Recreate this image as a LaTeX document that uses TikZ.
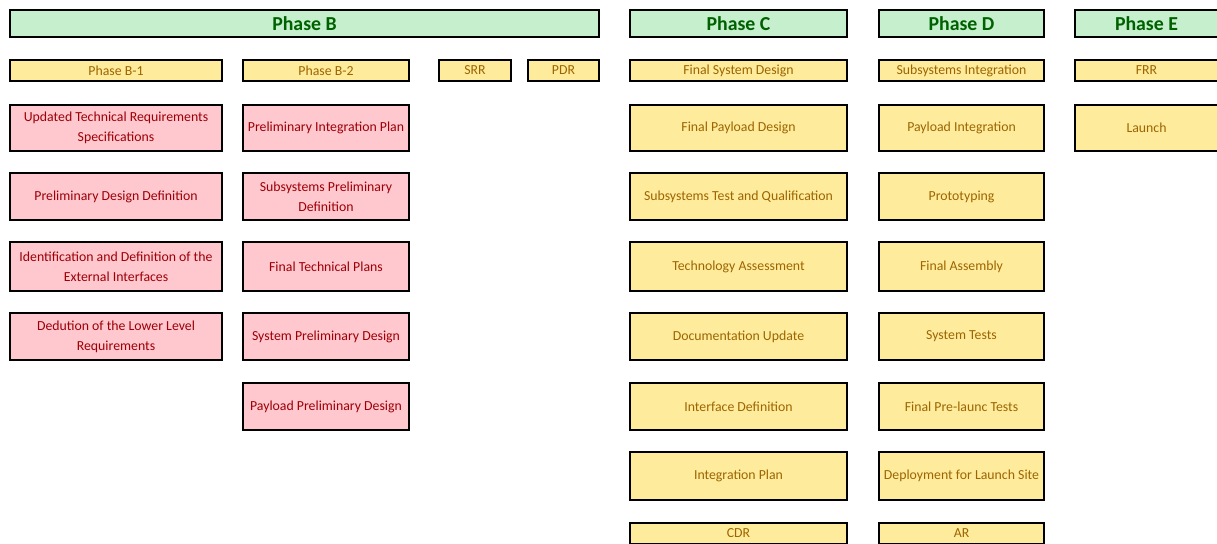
\documentclass[tikz,border=0pt]{standalone}
\usepackage{fontspec}
\setmainfont{Carlito}
\definecolor{goodfill}{HTML}{C6EFCE}
\definecolor{goodtext}{HTML}{006100}
\definecolor{neutfill}{HTML}{FFEB9C}
\definecolor{neuttext}{HTML}{9C6500}
\definecolor{badfill}{HTML}{FFC7CE}
\definecolor{badtext}{HTML}{9C0006}
\tikzset{
  cellbase/.style={draw=black, line width=1.8pt, rectangle, inner sep=0pt, align=center},
  phasehead/.style={cellbase, fill=goodfill, text=goodtext, font=\fontsize{19.8}{22}\selectfont\bfseries},
  milestone/.style={cellbase, fill=neutfill, text=neuttext, font=\fontsize{13.8}{20}\selectfont},
  activity/.style={cellbase, fill=neutfill, text=neuttext, font=\fontsize{13.8}{20}\selectfont},
  task/.style={cellbase, fill=badfill, text=badtext, font=\fontsize{13.8}{20}\selectfont},
}
% \cellbox{name}{x1}{y1}{x2}{y2}{style}{text}
\newcommand\cellbox[7]{%
  \node[#6, minimum width={#4pt-#2pt}, minimum height={#5pt-#3pt}]
    (#1) at ({(#2+#4)/2},{(#3+#5)/2}) {#7};}
\begin{document}
\begin{tikzpicture}[x=1pt,y=-1pt]
\useasboundingbox (0,0) rectangle (1217,543);
\clip (0,0) rectangle (1217,543);
\fill[white] (0,0) rectangle (1217,543);
% phase headers
\cellbox{pb}{10}{10}{599}{37}{phasehead}{Phase B}
\cellbox{pc}{630}{10}{847}{37}{phasehead}{Phase C}
\cellbox{pd}{879}{10}{1044}{37}{phasehead}{Phase D}
\cellbox{pe}{1075}{10}{1218}{37}{phasehead}{Phase E}
% sub-phases and reviews
\cellbox{b1}{10}{60}{222}{81}{milestone}{Phase B-1}
\cellbox{b2}{243}{60}{409}{81}{milestone}{Phase B-2}
\cellbox{srr}{439}{60}{511}{81}{milestone}{SRR}
\cellbox{pdr}{528}{60}{599}{81}{milestone}{PDR}
\cellbox{fsd}{630}{60}{847}{81}{milestone}{Final System Design}
\cellbox{ssi}{879}{60}{1044}{81}{milestone}{Subsystems Integration}
\cellbox{frr}{1075}{60}{1218}{81}{milestone}{FRR}
% Phase B-1 tasks
\cellbox{b1a}{10}{105}{222}{151}{task}{Updated Technical Requirements\\Specifications}
\cellbox{b1b}{10}{173}{222}{220}{task}{Preliminary Design Definition}
\cellbox{b1c}{10}{242}{222}{291}{task}{Identification and Definition of the\\External Interfaces}
\cellbox{b1d}{10}{313}{222}{360}{task}{Dedution of the Lower Level\\Requirements}
% Phase B-2 tasks
\cellbox{b2a}{243}{105}{409}{151}{task}{Preliminary Integration Plan}
\cellbox{b2b}{243}{173}{409}{220}{task}{Subsystems Preliminary\\Definition}
\cellbox{b2c}{243}{242}{409}{291}{task}{Final Technical Plans}
\cellbox{b2d}{243}{313}{409}{360}{task}{System Preliminary Design}
\cellbox{b2e}{243}{383}{409}{430}{task}{Payload Preliminary Design}
% Phase C activities
\cellbox{c1}{630}{105}{847}{151}{activity}{Final Payload Design}
\cellbox{c2}{630}{173}{847}{220}{activity}{Subsystems Test and Qualification}
\cellbox{c3}{630}{242}{847}{291}{activity}{Technology Assessment}
\cellbox{c4}{630}{313}{847}{360}{activity}{Documentation Update}
\cellbox{c5}{630}{383}{847}{430}{activity}{Interface Definition}
\cellbox{c6}{630}{452}{847}{500}{activity}{Integration Plan}
\cellbox{cdr}{630}{523}{847}{544}{milestone}{CDR}
% Phase D activities
\cellbox{d1}{879}{105}{1044}{151}{activity}{Payload Integration}
\cellbox{d2}{879}{173}{1044}{220}{activity}{Prototyping}
\cellbox{d3}{879}{242}{1044}{291}{activity}{Final Assembly}
\cellbox{d4}{879}{313}{1044}{360}{activity}{System Tests}
\cellbox{d5}{879}{383}{1044}{430}{activity}{Final Pre-launc Tests}
\cellbox{d6}{879}{452}{1044}{500}{activity}{Deployment for Launch Site}
\cellbox{ar}{879}{523}{1044}{544}{milestone}{AR}
% Phase E activities
\cellbox{e1}{1075}{105}{1218}{151}{activity}{Launch}
\end{tikzpicture}
\end{document}
